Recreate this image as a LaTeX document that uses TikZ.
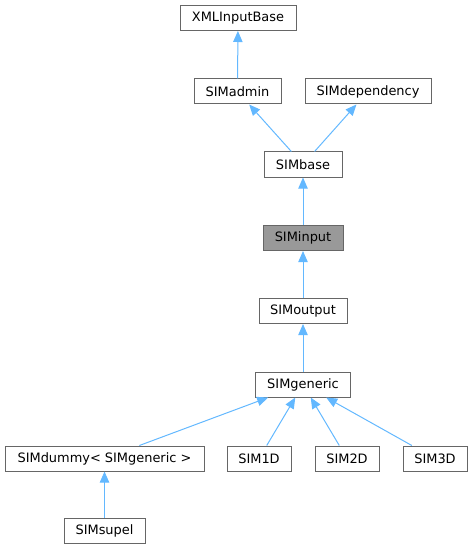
\documentclass[tikz,border=0pt]{standalone}
\usepackage{fontspec}
\setmainfont{DejaVu Sans}
\usetikzlibrary{arrows.meta}

\definecolor{edgeblue}{RGB}{99,184,255}
\definecolor{boxline}{RGB}{102,102,102}
\definecolor{boxgray}{RGB}{153,153,153}

\tikzset{every picture/.style={line width=0.75pt}}
\tikzset{
  cls/.style={draw=boxline, fill=white, font=\fontsize{9.7}{12}\selectfont, inner sep=0pt, minimum height=18.75pt},
  clscur/.style={cls, fill=boxgray},
  inh/.style={draw=edgeblue, {Triangle[length=8.25pt,width=7pt,fill=edgeblue]}-}
}

\begin{document}
\begin{tikzpicture}[x=0.75pt,y=0.75pt,yscale=-1,xscale=1]
\useasboundingbox (0,0) rectangle (473,549);

% Class Nodes
\node [cls, minimum width=87pt] (xmlbase) at (238,18) {XMLInputBase};
\node [cls, minimum width=65.25pt] (admin) at (237.5,91.5) {SIMadmin};
\node [cls, minimum width=94.5pt] (depend) at (368,91.5) {SIMdependency};
\node [cls, minimum width=58.5pt] (base) at (303,164.5) {SIMbase};
\node [clscur, minimum width=60pt] (input) at (303,238) {SIMinput};
\node [cls, minimum width=66pt] (output) at (303,311) {SIMoutput};
\node [cls, minimum width=71.25pt] (generic) at (303,384.5) {SIMgeneric};
\node [cls, minimum width=149.25pt] (dummy) at (104.5,458.5) {SIMdummy< SIMgeneric >};
\node [cls, minimum width=48pt] (oned) at (259,458.5) {SIM1D};
\node [cls, minimum width=48pt] (twod) at (347,458.5) {SIM2D};
\node [cls, minimum width=48pt] (threed) at (435,458.5) {SIM3D};
\node [cls, minimum width=60.75pt] (supel) at (104.5,531) {SIMsupel};

% Inheritance Lines
\draw [inh] (xmlbase) -- (admin);
\draw [inh] (admin) -- (base);
\draw [inh] (depend) -- (base);
\draw [inh] (base) -- (input);
\draw [inh] (input) -- (output);
\draw [inh] (output) -- (generic);
\draw [inh] (generic) -- (dummy);
\draw [inh] (generic) -- (oned);
\draw [inh] (generic) -- (twod);
\draw [inh] (generic) -- (threed);
\draw [inh] (dummy) -- (supel);

\end{tikzpicture}
\end{document}
